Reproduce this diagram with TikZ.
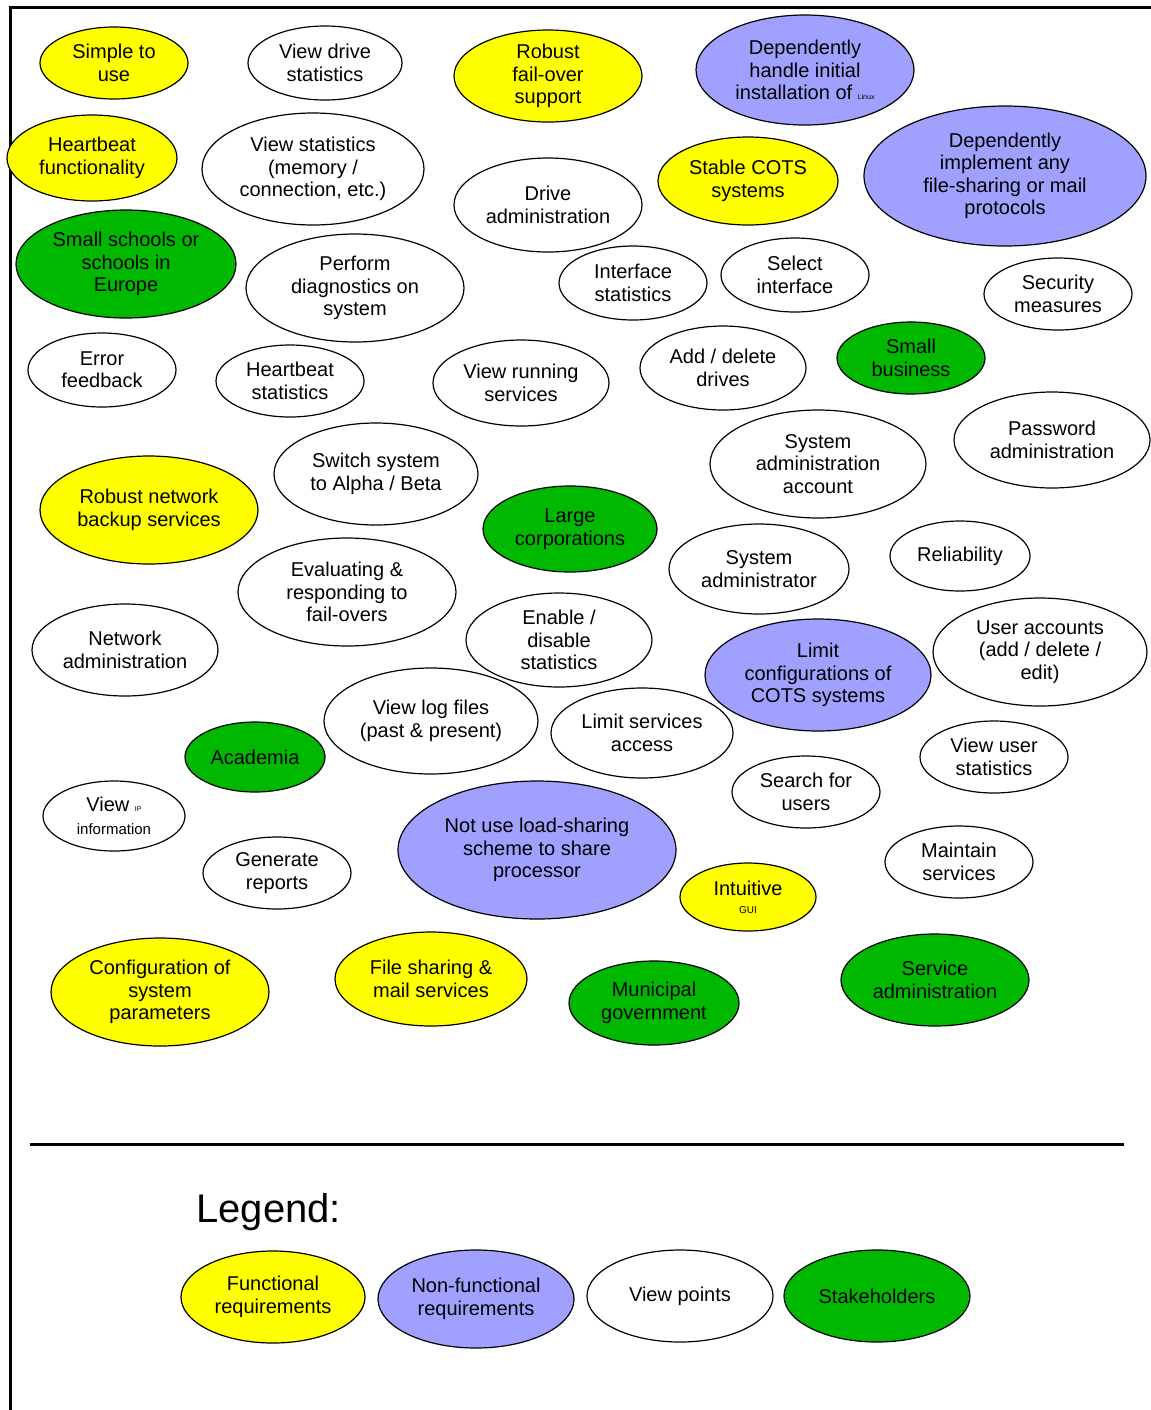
\documentclass[tikz,border=0pt]{standalone}
\usepackage{fontspec}
\setmainfont{Liberation Sans}
\usetikzlibrary{shapes.geometric}

\definecolor{funcyellow}{RGB}{255,255,0}
\definecolor{nfblue}{RGB}{160,160,255}
\definecolor{stakegreen}{RGB}{0,184,0}

\tikzset{
  req/.style={ellipse,draw,line width=0.6pt,inner sep=0pt,align=center,
              font=\fontsize{10}{11.2}\selectfont},
  func/.style={req,fill=funcyellow},
  nonfunc/.style={req,fill=nfblue},
  viewpt/.style={req,fill=white},
  stake/.style={req,fill=stakegreen},
  wh/.style 2 args={minimum width=#1*0.5pt,minimum height=#2*0.5pt}
}

\newcommand{\tinytxt}[1]{{\fontsize{3.5}{4}\selectfont #1}}

\begin{document}
\begin{tikzpicture}[x=0.5pt,y=-0.5pt]

        \useasboundingbox (0,0) rectangle (1151,1410);

        % frame
        \draw[line width=1.5pt] (10,1410) -- (10,7) -- (1151,7);

        \path   (114,63) node (simple) [func,wh={148}{72}] {Simple to\\use}
                (325,63) node (viewdrive) [viewpt,wh={154}{74}] {View drive\\statistics}
                (548,76) node (failover) [func,wh={188}{92}] {Robust\\fail-over\\support}
                (805,70) node (installlinux) [nonfunc,wh={218}{110}] {Dependently\\handle initial\\installation of \tinytxt{Linux}}
                (92,158) node (heartbeatfn) [func,wh={170}{86}] {Heartbeat\\functionality}
                (313,169) node (viewstats) [viewpt,wh={222}{112}] {View statistics\\(memory /\\connection, etc.)}
                (548,205) node (driveadmin) [viewpt,wh={188}{94}] {Drive\\administration}
                (748,181) node (stablecots) [func,wh={180}{88}] {Stable COTS\\systems}
                (1005,176) node (fileproto) [nonfunc,wh={282}{140}] {Dependently\\implement any\\file-sharing or mail\\protocols}
                (126,264) node (smallschools) [stake,wh={220}{108}] {Small schools or\\schools in\\Europe}
                (355,288) node (diagnostics) [viewpt,wh={218}{108}] {Perform\\diagnostics on\\system}
                (633,283) node (ifstats) [viewpt,wh={148}{74}] {Interface\\statistics}
                (795,275) node (selectif) [viewpt,wh={148}{74}] {Select\\interface}
                (1058,294) node (security) [viewpt,wh={148}{72}] {Security\\measures}
                (102,370) node (errorfb) [viewpt,wh={148}{74}] {Error\\feedback}
                (290,381) node (heartbeatst) [viewpt,wh={148}{72}] {Heartbeat\\statistics}
                (521,383) node (runningsvc) [viewpt,wh={176}{86}] {View running\\services}
                (723,368) node (adddrives) [viewpt,wh={166}{84}] {Add / delete\\drives}
                (911,358) node (smallbiz) [stake,wh={148}{72}] {Small\\business}
                (1052,440) node (passwdadmin) [viewpt,wh={196}{96}] {Password\\administration}
                (818,464) node (sysadminacct) [viewpt,wh={216}{108}] {System\\administration\\account}
                (149,510) node (netbackup) [func,wh={218}{108}] {Robust network\\backup services}
                (376,474) node (alphabeta) [viewpt,wh={204}{102}] {Switch system\\to Alpha / Beta}
                (570,529) node (largecorp) [stake,wh={174}{86}] {Large\\corporations}
                (759,569) node (sysadmin) [viewpt,wh={180}{90}] {System\\administrator}
                (960,556) node (reliability) [viewpt,wh={140}{70}] {Reliability}
                (347,592) node (failovers) [viewpt,wh={218}{108}] {Evaluating \&\\responding to\\fail-overs}
                (559,640) node (enablestats) [viewpt,wh={186}{94}] {Enable /\\disable\\statistics}
                (125,650) node (netadmin) [viewpt,wh={186}{92}] {Network\\administration}
                (818,675) node (limitcots) [nonfunc,wh={226}{112}] {Limit\\configurations of\\COTS systems}
                (1040,652) node (useraccts) [viewpt,wh={214}{108}] {User accounts\\(add / delete /\\edit)}
                (431,721) node (logfiles) [viewpt,wh={214}{106}] {View log files\\(past \& present)}
                (642,733) node (limitsvc) [viewpt,wh={182}{90}] {Limit services\\access}
                (255,757) node (academia) [stake,wh={140}{70}] {Academia}
                (994,757) node (userstats) [viewpt,wh={148}{72}] {View user\\statistics}
                (806,792) node (searchusers) [viewpt,wh={148}{72}] {Search for\\users}
                (114,816) node (viewip) [viewpt,wh={142}{70}] {View \tinytxt{IP}\\{\fontsize{7.5}{9}\selectfont information}}
                (537,850) node (loadsharing) [nonfunc,wh={278}{138}] {Not use load-sharing\\scheme to share\\processor}
                (277,873) node (reports) [viewpt,wh={148}{72}] {Generate\\reports}
                (748,897) node (intuitive) [func,wh={136}{68}] {Intuitive\\[-2pt]{\fontsize{5}{6}\selectfont GUI}}
                (959,862) node (maintsvc) [viewpt,wh={148}{72}] {Maintain\\services}
                (160,992) node (configparams) [func,wh={218}{108}] {Configuration of\\system\\parameters}
                (431,979) node (filesharing) [func,wh={192}{94}] {File sharing \&\\mail services}
                (654,1003) node (municipal) [stake,wh={170}{84}] {Municipal\\government}
                (935,980) node (svcadmin) [stake,wh={188}{92}] {Service\\administration};

        % legend
        \draw[line width=1.5pt] (30,1144) -- (1124,1144);

        \node (legendtitle) [anchor=base west,inner sep=0pt,font=\fontsize{20}{24}\selectfont] at (196,1222) {Legend:};

        \path   (273,1297) node (legfunc) [func,wh={184}{92}] {Functional\\requirements}
                (476,1299) node (legnonfunc) [nonfunc,wh={196}{98}] {Non-functional\\requirements}
                (680,1296) node (legview) [viewpt,wh={186}{92}] {View points}
                (877,1296) node (legstake) [stake,wh={186}{92}] {Stakeholders};

\end{tikzpicture}
\end{document}
